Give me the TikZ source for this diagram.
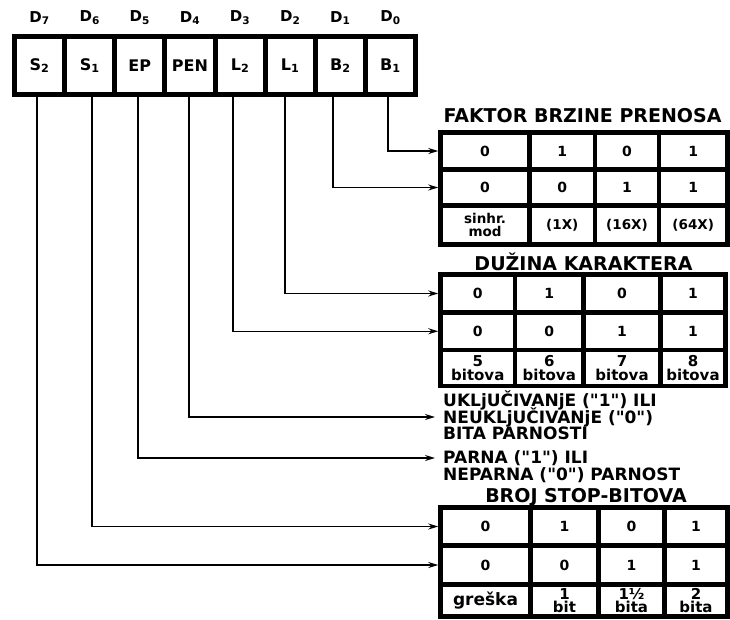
\documentclass[tikz,border=0pt]{standalone}
\usepackage{fontspec}
\setmainfont{DejaVu Sans}
\usetikzlibrary{arrows.meta}

\tikzset{
  reg/.style={draw, line width=5pt, inner sep=0pt, minimum width=50.125pt,
    minimum height=58pt, font=\fontsize{16}{16}\selectfont\bfseries},
  cell/.style={draw, line width=4.5pt, inner sep=0pt, align=center,
    font=\fontsize{14}{14}\selectfont\bfseries},
  donji/.style={font=\fontsize{13.5}{13.5}\selectfont\bfseries},
  naslov/.style={inner sep=0pt, font=\fontsize{19}{19}\selectfont\bfseries},
  opis/.style={anchor=west, inner xsep=8pt, inner ysep=0pt,
    font=\fontsize{17}{17}\selectfont\bfseries},
  veza/.style={->, line width=1.3pt}
}
\newcommand{\nav}{\textquotedbl}

\begin{document}
\begin{tikzpicture}[x=1pt, y=-1pt, >={Stealth[length=10pt,width=6pt]}]
  \useasboundingbox (0,0) rectangle (730,619);

  % upravljacka rec
  \foreach \ime/\oznaka/\d [count=\i from 0] in {s2/S\textsubscript{2}/7,
      s1/S\textsubscript{1}/6, ep/EP/5, pen/PEN/4, l2/L\textsubscript{2}/3,
      l1/L\textsubscript{1}/2, b2/B\textsubscript{2}/1, b1/B\textsubscript{1}/0}
    \node[reg, label={[inner sep=0pt, label distance=9pt,
        font=\fontsize{15}{15}\selectfont\bfseries]above:D\textsubscript{\d}}]
      (\ime) at ({39.56+50.125*\i}, 65.5) {\oznaka};

  % faktor brzine prenosa
  \node[naslov] (fbn) at (582.5, 116) {FAKTOR BRZINE PRENOSA};
  \foreach \xa/\xb/\ra/\rb/\rc [count=\c] in {440.5/529.5/0/0/{sinhr.\\mod},
      529.5/595/1/0/(1X), 595/659/0/1/(16X), 659/727.5/1/1/(64X)} {
    \node[cell, minimum width={(\xb-\xa)*1pt}, minimum height=37pt]
      (fb1\c) at ({(\xa+\xb)/2}, 151) {\ra};
    \node[cell, minimum width={(\xb-\xa)*1pt}, minimum height=36pt]
      (fb2\c) at ({(\xa+\xb)/2}, 187.5) {\rb};
    \node[cell, donji, minimum width={(\xb-\xa)*1pt}, minimum height=39pt]
      (fb3\c) at ({(\xa+\xb)/2}, 225) {\rc};
  }

  % duzina karaktera
  \node[naslov] (dkn) at (583.5, 262) {DUŽINA KARAKTERA};
  \foreach \xa/\xb/\ra/\rb/\rc [count=\c] in {440.5/515/0/0/5,
      515/583.5/1/0/6, 583.5/660.5/0/1/7, 660.5/725.5/1/1/8} {
    \node[cell, minimum width={(\xb-\xa)*1pt}, minimum height=38pt]
      (dk1\c) at ({(\xa+\xb)/2}, 293.5) {\ra};
    \node[cell, minimum width={(\xb-\xa)*1pt}, minimum height=37.5pt]
      (dk2\c) at ({(\xa+\xb)/2}, 331.25) {\rb};
    \node[cell, font=\fontsize{15}{14}\selectfont\bfseries,
        minimum width={(\xb-\xa)*1pt}, minimum height=36pt]
      (dk3\c) at ({(\xa+\xb)/2}, 368) {\rc\\bitova};
  }

  % bit parnosti
  \node[opis] (uklj1) at (435, 400) {UKLjUČIVANjE (\nav1\nav) ILI};
  \node[opis] (uklj2) at (435, 417) {NEUKLjUČIVANjE (\nav0\nav)};
  \node[opis] (uklj3) at (435, 433.5) {BITA PARNOSTI};
  \node[opis] (parna1) at (435, 458) {PARNA (\nav1\nav) ILI};
  \node[opis] (parna2) at (435, 475) {NEPARNA (\nav0\nav) PARNOST};

  % broj stop-bitova
  \node[naslov] (bsn) at (586, 497) {BROJ STOP-BITOVA};
  \foreach \xa/\xb/\ra/\rb/\rc [count=\c] in {440.5/530.5/0/0/{\fontsize{17}{17}\selectfont greška},
      530.5/598.5/1/0/{1\\bit}, 598.5/664.5/0/1/{1½\\bita},
      664.5/727.5/1/1/{2\\bita}} {
    \node[cell, minimum width={(\xb-\xa)*1pt}, minimum height=38pt]
      (bs1\c) at ({(\xa+\xb)/2}, 526.5) {\ra};
    \node[cell, minimum width={(\xb-\xa)*1pt}, minimum height=39pt]
      (bs2\c) at ({(\xa+\xb)/2}, 565) {\rb};
    \node[cell, font=\fontsize{15}{13.5}\selectfont\bfseries,
        minimum width={(\xb-\xa)*1pt}, minimum height=32pt]
      (bs3\c) at ({(\xa+\xb)/2}, 600.5) {\rc};
  }

  % veze
  \foreach \ime/\dx/\cilj in {b1/-2.4/fb11, b2/-7.3/fb21, l1/-5.2/dk11,
      l2/-7.1/dk21, pen/-0.9/uklj2, ep/-1.8/parna1, s1/2.3/bs11, s2/-2.6/bs21}
    \draw[veza] ([xshift=\dx pt]\ime.south) |- (\cilj.west);
\end{tikzpicture}
\end{document}
